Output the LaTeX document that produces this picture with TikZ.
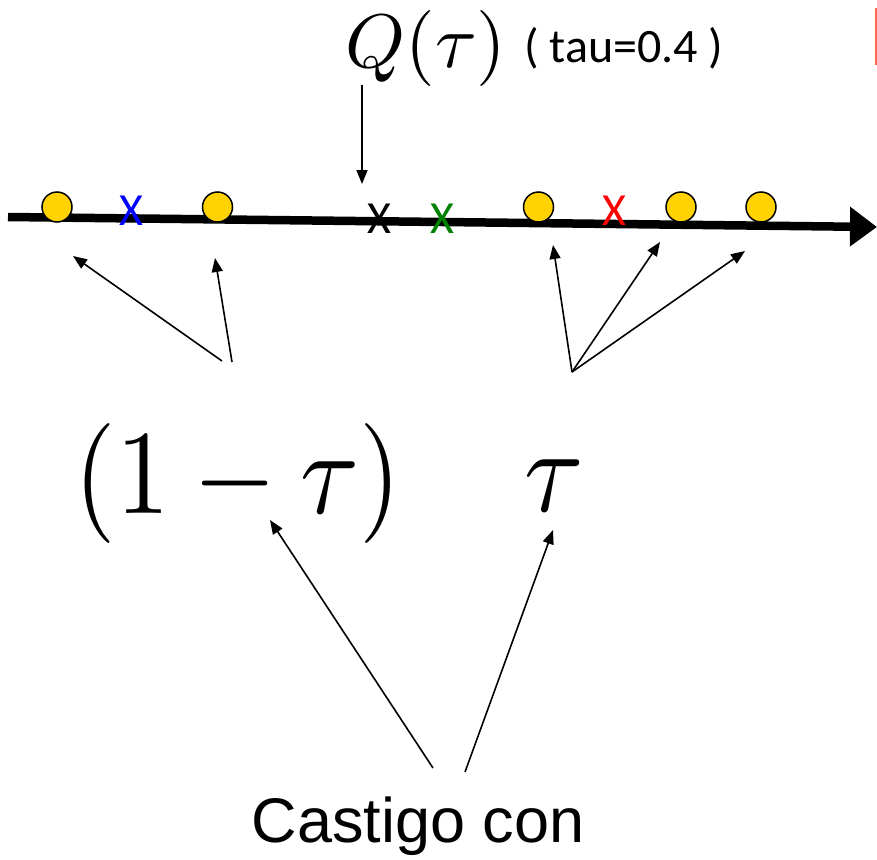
\documentclass[tikz,border=0pt]{standalone}
\usepackage{fontspec}
\setmainfont{Liberation Sans}
\newfontfamily\calfont{Carlito}
\usetikzlibrary{arrows.meta}
\definecolor{dotyellow}{HTML}{FFD200}
\definecolor{xgreen}{HTML}{008000}
\definecolor{edgered}{HTML}{FF6A4D}
\tikzset{
  dot/.style={circle,draw=black,line width=1.5pt,fill=dotyellow,minimum size=30pt,inner sep=0pt},
  xmark/.style={inner sep=0pt,font=\calfont\fontsize{46}{46}\selectfont},
  ptr/.style={line width=1.6pt,-{Triangle[length=14pt,width=11pt]}},
}
\begin{document}
\begin{tikzpicture}[x=1pt,y=-1pt]
\useasboundingbox (0,0) rectangle (877,859);
\fill[white] (0,0) rectangle (877,859);
% red edge
\draw[edgered,line width=1.5pt] (876,8) -- (876,65);
% axis
\coordinate (a0) at (8,217);
\coordinate (a1) at (877,227);
\draw[line width=8.5pt,-{Triangle[length=27pt,width=38pt]}] (a0) -- (a1);
% dots
\node[dot] (d1) at (57,207) {};
\node[dot] (d2) at (217.5,207) {};
\node[dot] (d3) at (538.5,207) {};
\node[dot] (d4) at (681,207) {};
\node[dot] (d5) at (761,207) {};
% x marks
\node[xmark,text=blue] (xb) at (131,211) {X};
\node[xmark,text=black] (xk) at (379,219) {X};
\node[xmark,text=xgreen] (xg) at (442,219) {X};
\node[xmark,text=red] (xr) at (614.5,211) {X};
% top label
\node[inner sep=0pt,scale=7.6] (q) at (426,48) {$Q(\tau)$};
\node[inner sep=0pt,font=\calfont\fontsize{48}{52}\selectfont] (tau) at (624,48) {( tau=0.4 )};
\coordinate (qs) at (362,85);
\coordinate (qe) at (362,184);
\draw[ptr] (qs) -- (qe);
% upper arrows
\coordinate (l1) at (222,361);
\coordinate (l2) at (232,362);
\coordinate (r0) at (572,372);
\coordinate (h1) at (73,256);
\coordinate (h2) at (215,258);
\coordinate (h3) at (553,245);
\coordinate (h4) at (660,242);
\coordinate (h5) at (745,251);
\draw[ptr] (l1) -- (h1);
\draw[ptr] (l2) -- (h2);
\draw[ptr] (r0) -- (h3);
\draw[ptr] (r0) -- (h4);
\draw[ptr] (r0) -- (h5);
% middle math
\node[inner sep=0pt,xscale=10.7,yscale=12] (om) at (238,483) {$(1-\tau)$};
\node[inner sep=0pt,xscale=10.8,yscale=12] (t) at (554,486) {$\tau$};
% bottom
\node[inner sep=0pt,font=\fontsize{63}{70}\selectfont] (c) at (418,826) {Castigo con};
\coordinate (b1) at (433,768);
\coordinate (b2) at (465,772);
\coordinate (e1) at (270,520);
\coordinate (e2) at (553,530);
\draw[ptr] (b1) -- (e1);
\draw[ptr] (b2) -- (e2);
\end{tikzpicture}
\end{document}
